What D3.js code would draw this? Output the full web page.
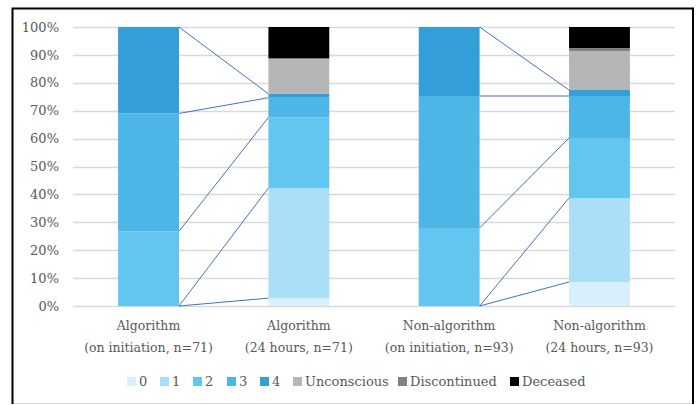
<!DOCTYPE html>
<html>
<head>
<meta charset="utf-8">
<script src="https://cdn.jsdelivr.net/npm/d3@7/dist/d3.min.js"></script>
<style>
  html, body { margin: 0; padding: 0; background: #fff; }
  svg { display: block; }
</style>
</head>
<body>
<svg id="chart" width="699" height="405"></svg>
<script>
// Groups shown on the x axis (two-line labels)
const groups = ["alg0", "alg24", "non0", "non24"];
const groupLine1 = ["Algorithm", "Algorithm", "Non-algorithm", "Non-algorithm"];
const groupLine2 = ["(on initiation, n=71)", "(24 hours, n=71)", "(on initiation, n=93)", "(24 hours, n=93)"];
const groupN = [71, 71, 93, 93];

// Outcome categories stacked bottom to top
const categories = ["0", "1", "2", "3", "4", "Unconscious", "Discontinued", "Deceased"];
const colors = ["#d7f0fb", "#abdff7", "#62c6f0", "#4cb6e6", "#349ed8", "#b5b6b8", "#808184", "#000000"];

// Patient counts per category, one array per group
const alg0  = [0, 0, 19, 30, 22, 0, 0, 0];
const alg24 = [2, 28, 18, 5, 1, 9, 0, 8];
const non0  = [0, 0, 26, 44, 23, 0, 0, 0];
const non24 = [8, 28, 20, 14, 2, 13, 1, 7];
const counts = [alg0, alg24, non0, non24];

// Pairs of bars joined by flow lines (before -> after), levels 0..4
const links = [[0, 1], [2, 3]];
const linkedLevels = [0, 1, 2, 3, 4];

const yTicks = [0, 10, 20, 30, 40, 50, 60, 70, 80, 90, 100];

const FONT = "DejaVu Serif, Liberation Serif, serif";
const TEXT = "#595959";

const svg = d3.select("#chart");

// Outer frame
svg.append("rect").attr("x", 12.5).attr("y", 8.5).attr("width", 680).attr("height", 395)
  .attr("fill", "none").attr("stroke", "#d9d9d9").attr("stroke-width", 1);
svg.append("path").attr("d", "M12.5,404 V8.5 H693 V404")
  .attr("fill", "none").attr("stroke", "#000").attr("stroke-width", 2);

const x = d3.scaleBand().domain(groups).range([73, 675]).paddingInner(0.595).paddingOuter(0.3);
const y = d3.scaleLinear().domain([0, 100]).range([306, 27]);

// Percent data
const pct = counts.map((arr, i) => arr.map(v => v / groupN[i] * 100));
const stackRows = groups.map((g, i) => {
  const o = { group: g };
  categories.forEach((c, j) => o[c] = pct[i][j]);
  return o;
});
const series = d3.stack().keys(categories)(stackRows);

// Gridlines
svg.append("g").selectAll("line").data(yTicks).join("line")
  .attr("x1", 73).attr("x2", 675)
  .attr("y1", d => Math.round(y(d)) + 0.5).attr("y2", d => Math.round(y(d)) + 0.5)
  .attr("stroke", "#d9d9d9").attr("stroke-width", 1.5);

// Y axis labels
const yAxis = d3.axisLeft(y).tickValues(yTicks).tickFormat(d => d + "%").tickSize(0).tickPadding(0);
const yg = svg.append("g").attr("transform", "translate(59,0)").call(yAxis)
  .attr("font-family", FONT).attr("font-size", 13);
yg.select(".domain").remove();
yg.selectAll("text").attr("fill", TEXT);

// Stacked bars
svg.append("g").selectAll("g").data(series).join("g")
  .attr("fill", (d, i) => colors[i])
  .selectAll("rect").data(d => d).join("rect")
  .attr("x", d => x(d.data.group))
  .attr("width", x.bandwidth())
  .attr("y", d => y(d[1]))
  .attr("height", d => Math.max(0, y(d[0]) - y(d[1])));

// Flow lines between the before/after bars at the top of each level
const lineData = [];
links.forEach(([a, b]) => {
  linkedLevels.forEach(k => {
    lineData.push({
      x1: x(groups[a]) + x.bandwidth(), y1: y(series[k][a][1]),
      x2: x(groups[b]), y2: y(series[k][b][1])
    });
  });
});
svg.append("g").selectAll("line").data(lineData).join("line")
  .attr("x1", d => d.x1).attr("y1", d => d.y1)
  .attr("x2", d => d.x2).attr("y2", d => d.y2)
  .attr("stroke", "#4472c4").attr("stroke-width", 1);

// X axis labels
const xl = svg.append("g").attr("font-family", FONT).attr("font-size", 12.5).attr("fill", TEXT);
groups.forEach((g, i) => {
  const cx = x(g) + x.bandwidth() / 2;
  xl.append("text").attr("x", cx).attr("y", 330).attr("text-anchor", "middle").text(groupLine1[i]);
  xl.append("text").attr("x", cx).attr("y", 352).attr("text-anchor", "middle").text(groupLine2[i]);
});

// Legend
const legendX = [127, 160, 193, 227, 260, 293, 398, 510];
const lg = svg.append("g").attr("font-family", FONT).attr("font-size", 13).attr("fill", TEXT);
categories.forEach((c, i) => {
  lg.append("rect").attr("x", legendX[i]).attr("y", 377).attr("width", 9).attr("height", 9)
    .attr("fill", colors[i]);
  lg.append("text").attr("x", legendX[i] + 12).attr("y", 386).text(c);
});
</script>
</body>
</html>
